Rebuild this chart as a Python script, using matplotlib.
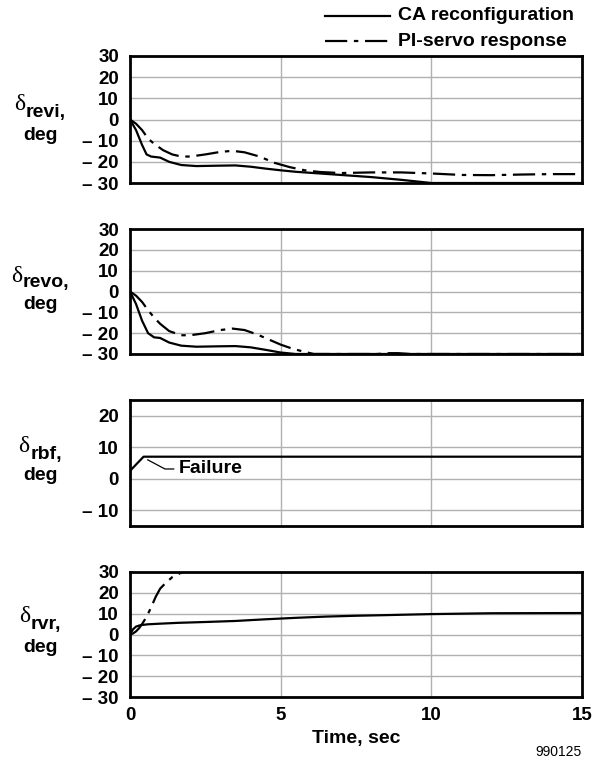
import matplotlib
matplotlib.use("Agg")
import matplotlib.pyplot as plt
from matplotlib.lines import Line2D

plt.rcParams['font.family'] = ['Liberation Sans', 'DejaVu Sans']

# ---------------- data ----------------
series_labels = ["CA reconfiguration", "PI-servo response"]
panel_labels = ["revi", "revo", "rbf", "rvr"]

t_revi_ca = [0, 0.2, 0.4, 0.55, 0.7, 1.0, 1.3, 1.7, 2.2, 3.0, 3.5, 4.0, 4.5, 5.0, 5.5, 6.0, 7.0, 8.0, 9.0, 10.0, 11.0, 15.0]
y_revi_ca = [0, -5, -12, -16.5, -17.5, -18, -20, -21.5, -22, -21.8, -21.7, -22.3, -23.2, -24, -24.7, -25.2, -26.2, -27.2, -28.5, -30, -30, -30]
t_revi_pi = [0, 0.2, 0.4, 0.6, 0.8, 1.1, 1.4, 1.7, 2.0, 2.5, 3.0, 3.4, 3.8, 4.3, 4.8, 5.3, 5.8, 6.3, 7.0, 8.0, 9.0, 10.0, 11.0, 12.0, 13.0, 14.0, 15.0]
y_revi_pi = [0, -2, -5, -9, -11.5, -14.5, -16.5, -17.5, -17.5, -16.5, -15.3, -14.8, -15.5, -17.5, -20.5, -22.5, -24, -24.8, -25.3, -25, -25, -25.5, -26.2, -26.3, -26, -25.8, -25.8]

t_revo_ca = [0, 0.2, 0.4, 0.6, 0.8, 1.0, 1.3, 1.7, 2.2, 3.0, 3.5, 4.0, 4.5, 5.0, 5.5, 6.0, 15.0]
y_revo_ca = [0, -6, -14, -20, -22, -22.3, -24.5, -26, -26.5, -26.3, -26.2, -26.8, -28, -29.3, -30, -30, -30]
t_revo_pi = [0, 0.2, 0.4, 0.6, 0.8, 1.0, 1.3, 1.7, 2.0, 2.5, 3.0, 3.4, 3.8, 4.2, 4.6, 5.0, 5.4, 5.8, 6.1, 8.2, 8.6, 8.9, 9.3, 15.0]
y_revo_pi = [0, -2, -5, -9, -12.5, -15.5, -19, -21, -21, -20, -18.5, -17.8, -18.5, -20.5, -23, -25.5, -27.5, -29, -30, -30, -29.6, -29.6, -30, -30]

t_rbf_ca = [0, 0.45, 15.0]
y_rbf_ca = [2.5, 7, 7]

t_rvr_ca = [0, 0.1, 0.2, 0.35, 0.6, 1.0, 1.6, 2.5, 3.5, 4.5, 5.5, 6.5, 7.5, 8.5, 10.0, 12.0, 15.0]
y_rvr_ca = [0, 2.5, 3.8, 4.5, 4.9, 5.2, 5.6, 6.0, 6.5, 7.3, 8.0, 8.6, 9.0, 9.3, 9.8, 10.2, 10.3]
t_rvr_pi = [0, 0.1, 0.2, 0.3, 0.4, 0.55, 0.7, 0.85, 1.0, 1.2, 1.4, 1.6, 1.75]
y_rvr_pi = [0, 0.5, 1.5, 3, 5, 8.5, 13, 18, 22, 25, 27.5, 29, 30]

yticks_a = [30, 20, 10, 0, -10, -20, -30]
ytick_labels_a = ["30", "20", "10", "0", "\u2013 10", "\u2013 20", "\u2013 30"]
yticks_rbf = [20, 10, 0, -10]
ytick_labels_rbf = ["20", "10", "0", "\u2013 10"]
xticks = [0, 5, 10, 15]
xtick_labels = ["0", "5", "10", "15"]

# ---------------- figure ----------------
W, H = 605, 761
fig = plt.figure(figsize=(W / 100, H / 100), dpi=100)

def fx(px):
    return px / W

def fy(py):
    return 1 - py / H

FS = 14
TFS = 13.5
left, right = 130, 582
boxes = [(56, 183), (229, 354), (400, 526), (572, 697)]
ylims = [(-30, 30), (-30, 30), (-15, 25), (-30, 30)]

pi_style = dict(color='black', lw=1.6, linestyle=(0, (10, 3, 2, 3)))
ca_style = dict(color='black', lw=1.6)

axes = []
for i, (top, bot) in enumerate(boxes):
    ax = fig.add_axes([fx(left), fy(bot), fx(right - left), (bot - top) / H])
    ax.set_xlim(0, 15)
    ax.set_ylim(*ylims[i])
    for s in ax.spines.values():
        s.set_linewidth(2.0)
        s.set_color('black')
    ax.set_xticks(xticks)
    if i == 2:
        ax.set_yticks(yticks_rbf)
        ax.set_yticklabels(ytick_labels_rbf)
    else:
        ax.set_yticks(yticks_a)
        ax.set_yticklabels(ytick_labels_a)
    ax.grid(True, color='#b0b0b0', lw=1.0)
    ax.set_axisbelow(True)
    ax.tick_params(length=0, pad=8, labelsize=TFS)
    for lab in ax.get_yticklabels():
        lab.set_fontweight('bold')
    if i == 3:
        ax.set_xticklabels(xtick_labels, fontweight='bold', fontsize=TFS)
        ax.tick_params(axis='x', pad=7)
    else:
        ax.set_xticklabels([])
    axes.append(ax)

axes[0].plot(t_revi_ca, y_revi_ca, **ca_style)
axes[0].plot(t_revi_pi, y_revi_pi, **pi_style)
axes[1].plot(t_revo_ca, y_revo_ca, **ca_style)
axes[1].plot(t_revo_pi, y_revo_pi, **pi_style)
axes[2].plot(t_rbf_ca, y_rbf_ca, **ca_style)
axes[3].plot(t_rvr_ca, y_rvr_ca, **ca_style)
axes[3].plot(t_rvr_pi, y_rvr_pi, **pi_style)

# Failure annotation
axes[2].plot([0.59, 1.16, 1.45], [6.0, 3.1, 3.1], color='black', lw=0.9)
axes[2].text(1.62, 3.1, "Failure", fontsize=FS, fontweight='bold', va='center', ha='left')

# y labels: delta + bold subscript, then "deg"
label_ys = [(105, 135), (276, 305), (447, 476), (617, 648)]
pairs = []
for name, (y1, y2) in zip(panel_labels, label_ys):
    d = fig.text(0, fy(y1), "\u03b4", fontsize=17, family='Liberation Serif',
                 ha='left', va='center')
    s = fig.text(0, fy(y1 + 7), name + ",", fontsize=FS, fontweight='bold',
                 ha='left', va='center')
    fig.text(fx(40), fy(y2), "deg", fontsize=FS, fontweight='bold', ha='center', va='center')
    pairs.append((d, s))

fig.canvas.draw()
r = fig.canvas.get_renderer()
for d, s in pairs:
    wd = d.get_window_extent(r).width
    ws = s.get_window_extent(r).width
    total = wd + 1 + ws
    x0 = 40 - total / 2
    d.set_x(fx(x0))
    s.set_x(fx(x0 + wd + 1))

fig.text(fx(356), fy(738), "Time, sec", fontsize=FS, fontweight='bold', ha='center', va='center')
fig.text(fx(558), fy(752), "990125", fontsize=10, ha='center', va='center')

# legend (manual, figure coordinates)
for j, (lab, st) in enumerate(zip(series_labels, [ca_style, pi_style])):
    yy = fy(16 + 25 * j)
    fig.add_artist(Line2D([fx(325), fx(390)], [yy, yy], transform=fig.transFigure, **st))
    fig.text(fx(398), yy, lab, fontsize=FS, fontweight='bold', ha='left', va='center')

fig.savefig("out.png", dpi=100)
